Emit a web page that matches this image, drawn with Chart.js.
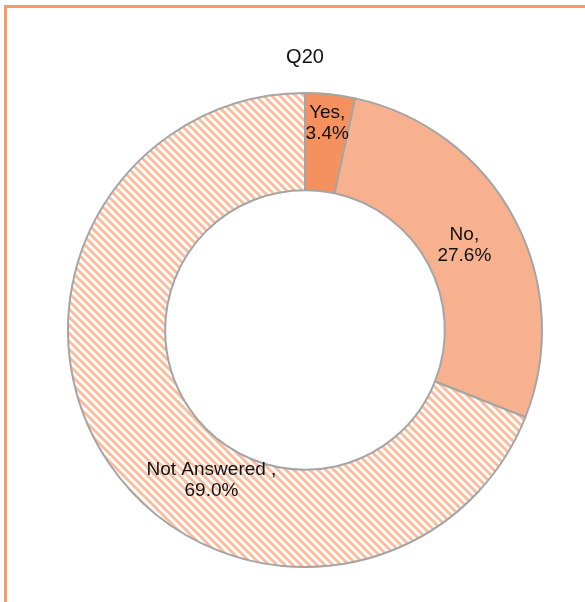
<!DOCTYPE html>
<html>
<head>
<meta charset="utf-8">
<script src="https://cdn.jsdelivr.net/npm/chart.js@4.4.1/dist/chart.umd.min.js"></script>
<style>
  html, body { margin: 0; padding: 0; background: #fff; }
  #wrap { position: relative; width: 585px; height: 602px; }
  #frame {
    position: absolute; left: 4px; top: 5px; right: 0; bottom: 0;
    border-top: 3px solid #f59a68; border-left: 3px solid #f59a68;
  }
  canvas { position: absolute; left: 0; top: 0; }
</style>
</head>
<body>
<div id="wrap">
  <div id="frame"></div>
  <canvas id="myChart" width="585" height="602"></canvas>
</div>
<script>
// data
var categories = ['Yes', 'No', 'Not Answered'];
var values = [3.4, 27.6, 69.0];
var labelNames = ['Yes,', 'No,', 'Not Answered ,'];
var labelPcts = ['3.4%', '27.6%', '69.0%'];

// where each label sits inside its slice (fraction of angle, fraction of ring)
var labelAngleFrac = [0.5, 0.5, 0.404];
var labelRadFrac = [0.71, 0.42, 0.38];

function makeHatch() {
    var s = 8;
    var c = document.createElement('canvas');
    c.width = s; c.height = s;
    var g = c.getContext('2d');
    g.fillStyle = '#ffffff';
    g.fillRect(0, 0, s, s);
    g.strokeStyle = '#f8bd9d';
    g.lineWidth = 3;
    for (var k = -1; k <= 1; k++) {
        g.beginPath();
        g.moveTo(k * s - 1, -1);
        g.lineTo(k * s + s + 1, s + 1);
        g.stroke();
    }
    return g.createPattern(c, 'repeat');
}

var sliceLabels = {
    id: 'sliceLabels',
    afterDatasetsDraw: function(chart) {
        var ctx = chart.ctx;
        var meta = chart.getDatasetMeta(0);
        ctx.save();
        ctx.font = '19px "Liberation Sans", Arial, sans-serif';
        ctx.fillStyle = '#111111';
        ctx.textAlign = 'center';
        ctx.textBaseline = 'middle';
        meta.data.forEach(function(arc, i) {
            var p = arc.getProps(['x', 'y', 'startAngle', 'endAngle', 'innerRadius', 'outerRadius'], true);
            var a = p.startAngle + labelAngleFrac[i] * (p.endAngle - p.startAngle);
            var r = p.innerRadius + labelRadFrac[i] * (p.outerRadius - p.innerRadius);
            var x = p.x + r * Math.cos(a);
            var y = p.y + r * Math.sin(a);
            ctx.fillText(labelNames[i], x, y - 10);
            ctx.fillText(labelPcts[i], x, y + 11);
        });
        ctx.restore();
    }
};

var ctx = document.getElementById('myChart').getContext('2d');
var pieChart = new Chart(ctx, {
    type: 'doughnut',
    data: {
        labels: categories,
        datasets: [{
            data: values,
            backgroundColor: ['#f4915e', '#f8b18e', makeHatch()],
            borderColor: '#a5a5a5',
            borderWidth: 2
        }]
    },
    options: {
        responsive: false,
        animation: false,
        cutout: '59%',
        layout: { padding: { left: 67, right: 42, top: 0, bottom: 34 } },
        plugins: {
            legend: { display: false },
            tooltip: { enabled: false },
            title: {
                display: true,
                text: 'Q20',
                color: '#111111',
                font: { family: '"Liberation Sans", Arial, sans-serif', size: 20, weight: 'normal' },
                padding: { top: 45, bottom: 23 }
            }
        }
    },
    plugins: [sliceLabels]
});
</script>
</body>
</html>
